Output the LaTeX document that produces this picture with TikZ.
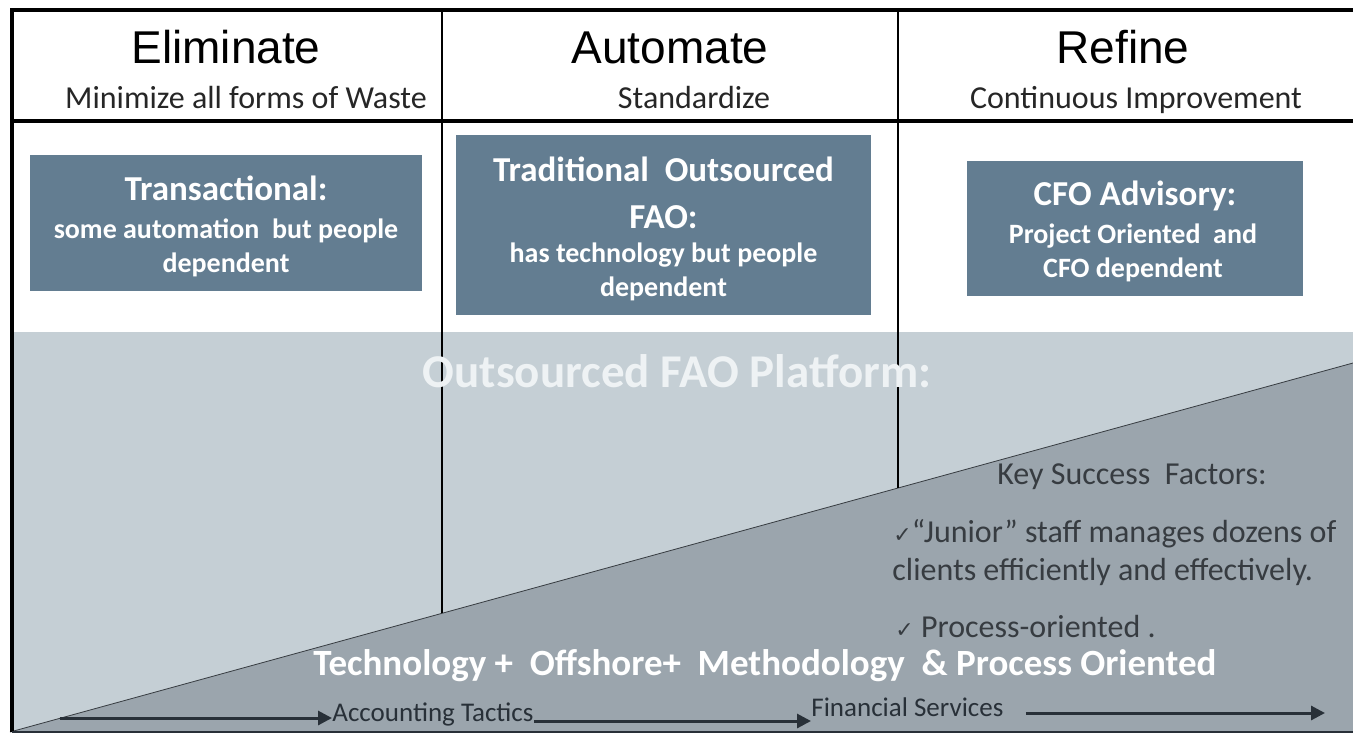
\documentclass[tikz,border=0pt]{standalone}
\usepackage{fontspec}
\setmainfont{Carlito}
\newfontfamily\headfont{Liberation Sans}
\newfontfamily\symfont{DejaVu Sans}
\usetikzlibrary{arrows.meta}
\definecolor{bandgrey}{RGB}{197,207,213}
\definecolor{rampgrey}{RGB}{155,165,173}
\definecolor{boxblue}{RGB}{99,125,145}
\definecolor{inkgrey}{RGB}{55,60,65}
\definecolor{arrowgrey}{RGB}{40,48,56}
\definecolor{platformwhite}{RGB}{238,242,244}
\newcommand{\tick}{{\symfont\fontsize{11}{11}\selectfont ✓}}

\begin{document}
\begin{tikzpicture}[x=0.5pt,y=-0.5pt,
    every node/.style={inner sep=0pt},
    phase/.style={anchor=base,font=\headfont\fontsize{23}{27}\selectfont},
    motto/.style={anchor=base,text=black!85,font=\fontsize{16}{19}\selectfont},
    card/.style={fill=boxblue},
    cardhead/.style={anchor=base,text=white,align=center,font=\bfseries\fontsize{17.5}{23.5}\selectfont},
    cardtext/.style={anchor=base,text=white,align=center,font=\bfseries\fontsize{14}{17}\selectfont},
    factor/.style={anchor=base west,text=inkgrey,font=\fontsize{16}{19}\selectfont},
    stage/.style={anchor=base west,text=arrowgrey,font=\fontsize{13.5}{16}\selectfont},
    flow/.style={arrowgrey,line width=1.5pt,-{Triangle[length=7pt,width=7pt]}}]
        \useasboundingbox (0,0) rectangle (1353,734);
        \fill [white] (0,0) rectangle (1353,734);
        \fill [bandgrey] (10,332) rectangle (1353,732);
        \fill [rampgrey] (10,732) -- (1353,363) -- (1353,732) -- cycle;
        \draw [inkgrey] (10,732) -- (1353,363);
        \draw [line width=1pt] (442,10) -- (442,613);
        \draw [line width=1pt] (898,10) -- (898,488);
        \draw [line width=2pt] (1353,10) -- (12,10) -- (12,732);
        \draw [line width=2pt] (12,121) -- (1353,121);
        \draw [line width=1.2pt,arrowgrey] (12,732) -- (1353,732);

      \node [phase] (elim) at (226,63) {Eliminate};
      \node [phase] (auto) at (670,63) {Automate};
      \node [phase] (refine) at (1123,63) {Refine};
      \node [motto] (waste) at (246,108) {Minimize all forms of Waste};
      \node [motto] (standard) at (694,108) {Standardize};
      \node [motto] (improve) at (1136,108) {Continuous Improvement};

      % multi-line nodes sit on the baseline of their last line
      \node [card,minimum width=196pt,minimum height=68pt] (transact) at (226,223) {};
      \node [card,minimum width=207.5pt,minimum height=90pt] (tradfao) at (663.5,225) {};
      \node [card,minimum width=168pt,minimum height=67.5pt] (cfo) at (1135,228.5) {};
      \node [cardhead] (transactHead) at (226,200) {Transactional:};
      \node [cardtext] (transactText) at (226,272) {some automation\ \ but people\\dependent};
      \node [cardhead] (tradHead) at (663.5,228) {Traditional\ \ Outsourced\\FAO:};
      \node [cardtext] (tradText) at (663.5,296) {has technology but people\\dependent};
      \node [cardhead] (cfoHead) at (1135,205) {CFO Advisory:};
      \node [cardtext] (cfoText) at (1133,277) {Project Oriented\ \ and\\CFO dependent};

      \node [anchor=base,text=platformwhite,font=\bfseries\fontsize{23.5}{28}\selectfont] (platform) at (677,387) {Outsourced FAO Platform:};
      \node [factor] (ksf) at (997,484) {Key Success\ \ Factors:};
      \node [factor] (junior) at (893,542) {\tick“Junior” staff manages dozens of};
      \node [factor] (clients) at (892,580) {clients efficiently and effectively.};
      \node [factor] (procor) at (895,637) {\tick\ Process-oriented .};
      \node [anchor=base west,text=white,font=\bfseries\fontsize{18.5}{22}\selectfont] (mix) at (313,675) {Technology +\ \ Offshore+\ \ Methodology\ \ \& Process Oriented};

      \coordinate (flowstart) at (60,718);
      \coordinate (flowend) at (1325,713);
      \node [stage] (tactics) at (332,721) {Accounting Tactics};
      \node [stage] (services) at (811,716) {Financial Services};
        \draw [flow] (flowstart) -- (flowstart -| tactics.west);
        \draw [flow] (tactics.base east) -- (tactics.base east -| services.west);
        \draw [flow,shorten <=11pt] ([yshift=1.5pt]services.base east) -- (flowend);
    \end{tikzpicture}
\end{document}
